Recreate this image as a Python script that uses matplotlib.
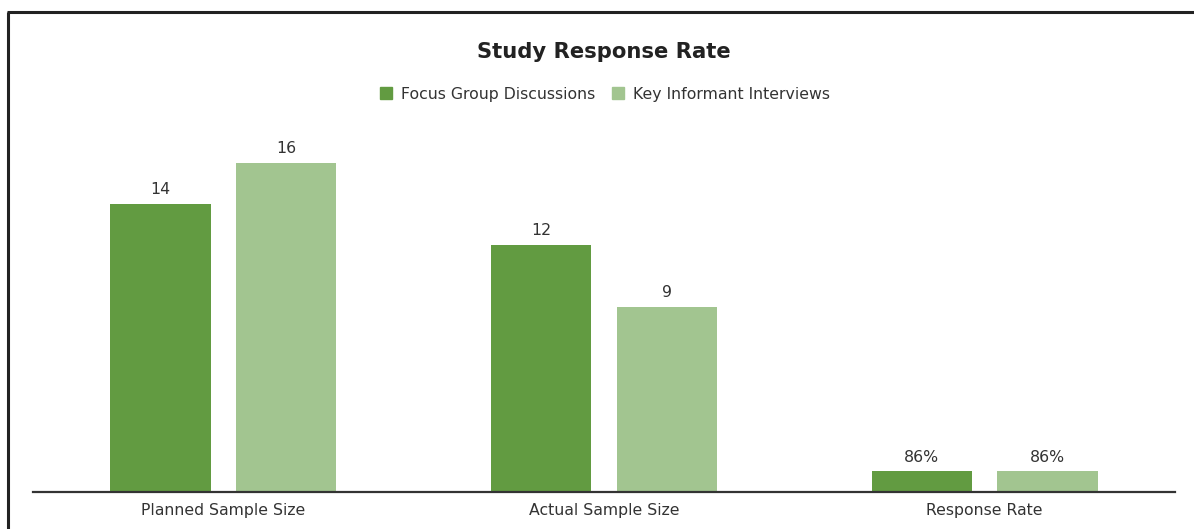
import matplotlib
matplotlib.use("Agg")
import matplotlib.pyplot as plt
from matplotlib.lines import Line2D
import numpy as np

categories = ["Planned Sample Size", "Actual Sample Size", "Response Rate"]
series_names = ["Focus Group Discussions", "Key Informant Interviews"]
fgd_values = [14, 12, 1.0]
kii_values = [16, 9, 1.0]
fgd_labels = ["14", "12", "86%"]
kii_labels = ["16", "9", "86%"]
colors = ["#629b41", "#a2c590"]

W, H = 1194, 529
fig = plt.figure(figsize=(W / 100, H / 100), dpi=100)
plt.rcParams['font.family'] = ['DejaVu Sans']
text_color = "#333333"

ax_left, ax_right = 33, 1175
ax_bottom, ax_top = 492, 122
px_per_unit = 20.55
ymax = (ax_bottom - ax_top) / px_per_unit
ax = fig.add_axes([ax_left / W, (H - ax_bottom) / H, (ax_right - ax_left) / W, (ax_bottom - ax_top) / H])

x = np.arange(len(categories))
bw = 0.263
off = 0.165
b1 = ax.bar(x - off, fgd_values, bw, color=colors[0], label=series_names[0])
b2 = ax.bar(x + off, kii_values, bw, color=colors[1], label=series_names[1])
for bars, labs in ((b1, fgd_labels), (b2, kii_labels)):
    for r, lab in zip(bars, labs):
        ax.annotate(lab, (r.get_x() + r.get_width() / 2, r.get_height()), xytext=(0, 5),
                    textcoords="offset points", ha="center", va="bottom", fontsize=11.3, color=text_color)

ax.set_xlim(-0.5, len(categories) - 0.5)
ax.set_ylim(0, ymax)
ax.set_xticks(x)
ax.set_xticklabels(categories, fontsize=11.3, color=text_color)
ax.tick_params(axis="x", length=0, pad=8)
ax.set_yticks([])
for s in ("top", "right", "left"):
    ax.spines[s].set_visible(False)
ax.spines["bottom"].set_color("#333333")
ax.spines["bottom"].set_linewidth(1.6)

fig.text(604 / W, 1 - 52 / H, "Study Response Rate", ha="center", va="center",
         fontsize=15.2, fontweight="bold", color="#222222")

handles = [Line2D([], [], marker="s", linestyle="none", markersize=8, color=c) for c in colors]
fig.legend(handles, series_names, loc="center", bbox_to_anchor=(604 / W, 1 - 94 / H), ncol=2,
           frameon=False, fontsize=11.3, handletextpad=0.45, columnspacing=0.95, labelcolor=text_color,
           handlelength=1.0)

# frame lines
fig.add_artist(Line2D([8 / W, 8 / W], [0, 1 - 12 / H], color="#222222", lw=2.2, solid_capstyle="butt"))
fig.add_artist(Line2D([7 / W, 1], [1 - 12 / H, 1 - 12 / H], color="#222222", lw=2.2, solid_capstyle="butt"))

fig.savefig("out.png", dpi=100)
